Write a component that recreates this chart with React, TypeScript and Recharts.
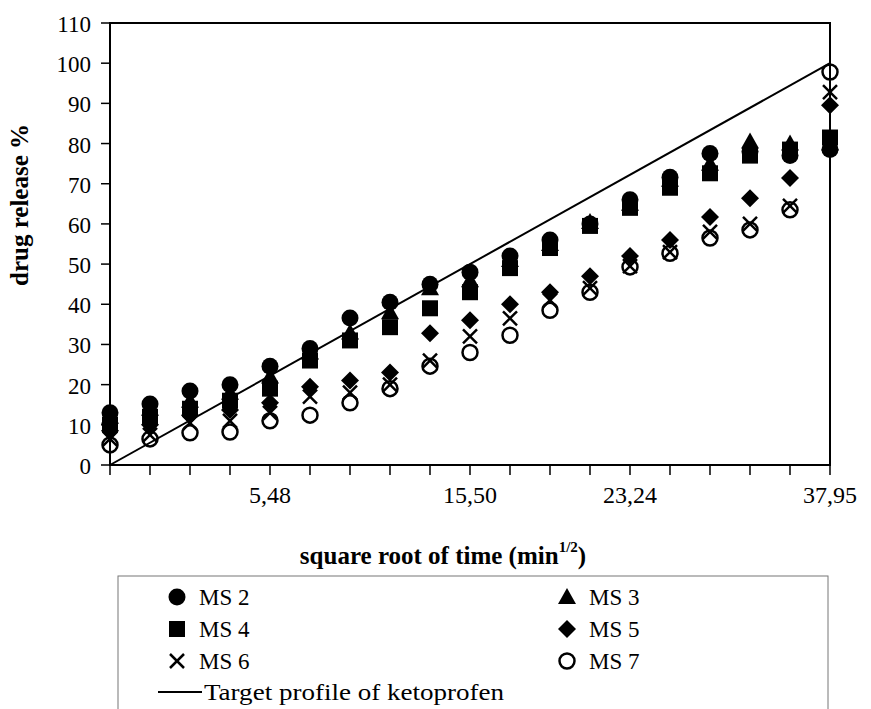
import React from 'react'
import { ComposedChart, Line, XAxis, YAxis, ReferenceArea } from 'recharts'

// sqrt(time) sampling points, only a few carry a label
const steps = [0, 1, 2, 3, 4, 5, 6, 7, 8, 9, 10, 11, 12, 13, 14, 15, 16, 17, 18]
const stepLabels = ['', '', '', '', '5,48', '', '', '', '', '15,50', '', '', '', '23,24', '', '', '', '', '37,95']
const yTicks = [0, 10, 20, 30, 40, 50, 60, 70, 80, 90, 100, 110]

const ms2 = [13, 15.2, 18.4, 20, 24.6, 29, 36.6, 40.5, 45, 48, 52, 56, 60, 66, 71.6, 77.5, 78, 77, 78.5]
const ms3 = [12, 14, 16, 18, 22, 28, 33, 38, 44, 46, 51, 55, 60.5, 65, 71, 75, 80.5, 80, 80]
const ms4 = [10, 12, 14, 16, 19, 26, 31, 34.3, 39, 43, 49, 54, 59.5, 64, 69, 72.6, 77, 78.5, 81.5]
const ms5 = [8.5, 10, 12.4, 13.7, 15.5, 19.5, 21, 23, 32.8, 36, 40, 43, 47, 52, 56, 61.7, 66.4, 71.4, 89.5]
const ms6 = [6.5, 7.5, 10.5, 11, 13, 17, 18, 20, 26, 32, 36.5, 41, 44, 49.5, 53, 58, 60, 64.5, 92.8]
const ms7 = [5, 6.5, 8, 8.2, 11, 12.4, 15.5, 19, 24.6, 28, 32.3, 38.5, 43, 49.3, 52.7, 56.5, 58.5, 63.5, 97.8]
const target = [0, null, null, null, null, null, null, null, null, null, null, null, null, null, null, null, null, null, 100]

const data = steps.map((s, k) => ({
  s,
  ms2: ms2[k],
  ms3: ms3[k],
  ms4: ms4[k],
  ms5: ms5[k],
  ms6: ms6[k],
  ms7: ms7[k],
  target: target[k],
}))

const FONT = '"Liberation Serif", "Times New Roman", serif'

type Kind = 'circle' | 'triangle' | 'square' | 'diamond' | 'cross' | 'ring'

function Marker({ cx, cy, kind }: { cx: number; cy: number; kind: Kind }) {
  if (cx == null || cy == null || isNaN(cx) || isNaN(cy)) return null
  switch (kind) {
    case 'circle':
      return <circle cx={cx} cy={cy} r={8.5} fill="#000" />
    case 'triangle':
      return <polygon points={`${cx},${cy - 9} ${cx + 9},${cy + 7} ${cx - 9},${cy + 7}`} fill="#000" />
    case 'square':
      return <rect x={cx - 8} y={cy - 8} width={16} height={16} fill="#000" />
    case 'diamond':
      return <polygon points={`${cx},${cy - 9} ${cx + 9},${cy} ${cx},${cy + 9} ${cx - 9},${cy}`} fill="#000" />
    case 'cross':
      return (
        <g stroke="#000" strokeWidth={2.5}>
          <line x1={cx - 7} y1={cy - 7} x2={cx + 7} y2={cy + 7} />
          <line x1={cx - 7} y1={cy + 7} x2={cx + 7} y2={cy - 7} />
        </g>
      )
    case 'ring':
      return <circle cx={cx} cy={cy} r={7.5} fill="none" stroke="#000" strokeWidth={2.5} />
  }
  return null
}

const dotOf = (kind: Kind) => (p: any) => <Marker key={`${kind}-${p.index}`} cx={p.cx} cy={p.cy} kind={kind} />

const XTick = (p: any) => (
  <text x={p.x} y={p.y + 20} textAnchor="middle" fontSize={24} fontFamily={FONT} fill="#000">
    {stepLabels[p.payload.value]}
  </text>
)

const YTick = (p: any) => (
  <text x={p.x} y={p.y + 9} textAnchor="end" fontSize={23} fontFamily={FONT} fill="#000">
    {p.payload.value}
  </text>
)

const seriesDefs: { key: string; kind: Kind }[] = [
  { key: 'ms2', kind: 'circle' },
  { key: 'ms3', kind: 'triangle' },
  { key: 'ms4', kind: 'square' },
  { key: 'ms5', kind: 'diamond' },
  { key: 'ms6', kind: 'cross' },
  { key: 'ms7', kind: 'ring' },
]

const legendRows: { kind: Kind; name: string; col: number; row: number }[] = [
  { kind: 'circle', name: 'MS 2', col: 0, row: 0 },
  { kind: 'triangle', name: 'MS 3', col: 1, row: 0 },
  { kind: 'square', name: 'MS 4', col: 0, row: 1 },
  { kind: 'diamond', name: 'MS 5', col: 1, row: 1 },
  { kind: 'cross', name: 'MS 6', col: 0, row: 2 },
  { kind: 'ring', name: 'MS 7', col: 1, row: 2 },
]

function LegendBox() {
  const colMarker = [177, 567]
  const colText = [199, 589]
  const rowY = [22, 54, 86, 117]
  return (
    <svg width={871} height={134} style={{ position: 'absolute', left: 0, top: 575 }}>
      <rect x={118} y={1} width={710} height={160} fill="none" stroke="#777" strokeWidth={1} />
      {legendRows.map((r) => (
        <g key={r.name}>
          <Marker cx={colMarker[r.col]} cy={rowY[r.row]} kind={r.kind} />
          <text x={colText[r.col]} y={rowY[r.row] + 8} fontSize={23} fontFamily={FONT} fill="#000">
            {r.name}
          </text>
        </g>
      ))}
      <line x1={158} y1={rowY[3]} x2={202} y2={rowY[3]} stroke="#000" strokeWidth={2} />
      <text
        x={204}
        y={rowY[3] + 8}
        fontSize={24}
        fontFamily={FONT}
        fill="#000"
        textLength={300}
        lengthAdjust="spacingAndGlyphs"
      >
        Target profile of ketoprofen
      </text>
    </svg>
  )
}

export default function App() {
  return (
    <div style={{ position: 'absolute', left: 0, top: 0, width: 871, height: 709, background: '#fff' }}>
      <ComposedChart width={871} height={575} data={data} margin={{ top: 23, right: 41, bottom: 0, left: 0 }}>
        <XAxis
          dataKey="s"
          type="category"
          scale="point"
          padding={{ left: 0, right: 0 }}
          interval={0}
          height={110}
          tickSize={10}
          tickMargin={8}
          axisLine={{ stroke: '#000', strokeWidth: 2 }}
          tickLine={{ stroke: '#000', strokeWidth: 1.5 }}
          tick={XTick}
          label={{
            content: () => (
              <text x={443} y={564} textAnchor="middle" fontSize={25} fontWeight="bold" fontFamily={FONT} fill="#000">
                square root of time (min
                <tspan fontSize={15} dy={-12}>1/2</tspan>
                <tspan dy={12}>)</tspan>
              </text>
            ),
          }}
        />
        <YAxis
          domain={[0, 110]}
          ticks={yTicks}
          width={110}
          tickSize={9}
          tickMargin={10}
          axisLine={{ stroke: '#000', strokeWidth: 2 }}
          tickLine={{ stroke: '#000', strokeWidth: 1.5 }}
          tick={YTick}
          label={{
            content: () => (
              <text
                x={28}
                y={205}
                transform="rotate(-90 28 205)"
                textAnchor="middle"
                fontSize={25}
                fontWeight="bold"
                fontFamily={FONT}
                fill="#000"
              >
                drug release %
              </text>
            ),
          }}
        />
        <ReferenceArea x1={0} x2={18} y1={0} y2={110} fill="none" stroke="#000" strokeWidth={2} />
        <Line
          dataKey="target"
          stroke="#000"
          strokeWidth={2}
          dot={false}
          activeDot={false}
          connectNulls
          isAnimationActive={false}
        />
        {seriesDefs.map((d) => (
          <Line
            key={d.key}
            dataKey={d.key}
            stroke="none"
            strokeWidth={0}
            dot={dotOf(d.kind)}
            activeDot={false}
            isAnimationActive={false}
          />
        ))}
      </ComposedChart>
      <LegendBox />
    </div>
  )
}
